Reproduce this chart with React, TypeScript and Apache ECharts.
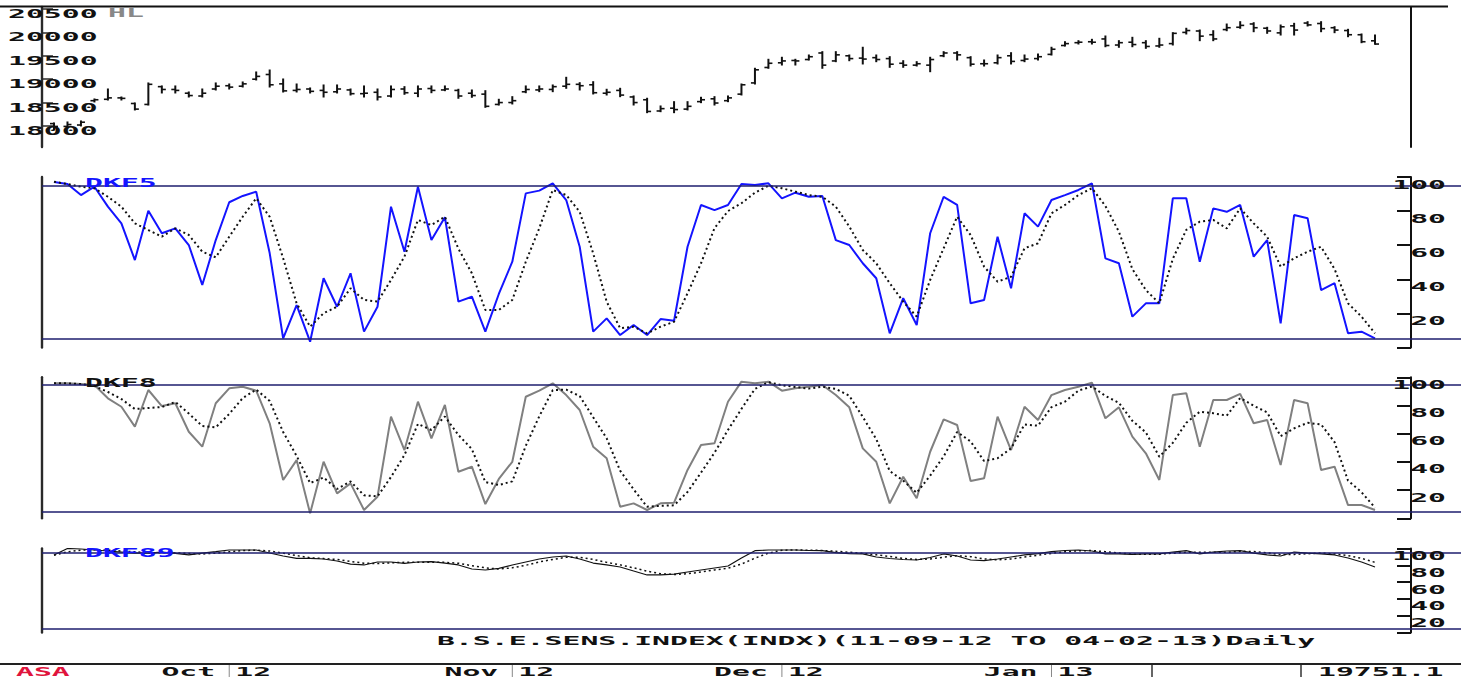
import React, { useEffect, useRef } from 'react';
import * as echarts from 'echarts';

// ---- trading days shown (11-09-12 .. 04-02-13) ----
const sepDays = [11, 12, 13, 14, 17, 18, 20, 21, 24, 25, 26, 27, 28];
const octDays = [1, 3, 4, 5, 8, 9, 10, 11, 12, 15, 16, 17, 18, 19, 22, 23, 25, 26, 29, 30, 31];
const novDays = [1, 2, 5, 6, 7, 8, 9, 12, 13, 15, 16, 19, 20, 21, 22, 23, 26, 27, 29, 30];
const decDays = [3, 4, 5, 6, 7, 10, 11, 12, 13, 14, 17, 18, 19, 20, 21, 24, 26, 27, 28, 31];
const janDays = [1, 2, 3, 4, 7, 8, 9, 10, 11, 14, 15, 16, 17, 18, 21, 22, 23, 24, 25, 28, 29, 30, 31];
const febDays = [1, 4];

const dates: string[] = [
  ...sepDays.map((d) => `${d}-09-12`),
  ...octDays.map((d) => `${d}-10-12`),
  ...novDays.map((d) => `${d}-11-12`),
  ...decDays.map((d) => `${d}-12-12`),
  ...janDays.map((d) => `${d}-01-13`),
  ...febDays.map((d) => `${d}-02-13`),
];

// ---- price (HL bars) ----
const priceHigh = [18064, 18085, 18107, 18577, 18790, 18619, 18491, 18919, 18855, 18855,
  18726, 18790, 18919, 18897, 18940, 19154, 19196, 19004, 18897, 18812,
  18876, 18876, 18790, 18855, 18790, 18855, 18840, 18855, 18855, 18855,
  18784, 18769, 18754, 18570, 18626, 18855, 18855, 18876, 19040, 18925,
  18946, 18784, 18805, 18641, 18592, 18427, 18519, 18519, 18613, 18626,
  18641, 18897, 19233, 19425, 19468, 19425, 19517, 19588, 19588, 19517,
  19682, 19517, 19481, 19395, 19374, 19468, 19588, 19588, 19481, 19410,
  19517, 19566, 19517, 19538, 19682, 19801, 19823, 19852, 19923, 19823,
  19895, 19823, 19874, 19994, 20088, 20051, 20036, 20179, 20229, 20207,
  20109, 20158, 20194, 20229, 20229, 20122, 20066, 19966, 19944];
const priceLow = [17915, 17957, 18000, 18513, 18555, 18555, 18342, 18448, 18705, 18705,
  18619, 18619, 18769, 18790, 18833, 18983, 18833, 18726, 18726, 18705,
  18619, 18705, 18662, 18619, 18555, 18619, 18677, 18626, 18711, 18754,
  18592, 18613, 18399, 18448, 18470, 18711, 18733, 18733, 18805, 18769,
  18684, 18662, 18626, 18448, 18284, 18305, 18284, 18342, 18498, 18448,
  18519, 18662, 18897, 19233, 19303, 19303, 19410, 19233, 19374, 19395,
  19325, 19374, 19254, 19254, 19282, 19160, 19481, 19410, 19282, 19282,
  19325, 19325, 19374, 19410, 19517, 19709, 19752, 19752, 19694, 19682,
  19694, 19660, 19682, 19731, 19966, 19823, 19823, 20036, 20088, 20015,
  19981, 19944, 19944, 20137, 20015, 19994, 19908, 19780, 19745];
const priceOpen = [18050, 17990, 18020, 18540, 18570, 18600, 18480, 18460, 18840, 18780,
  18700, 18640, 18790, 18860, 18850, 19000, 19100, 18900, 18760, 18790,
  18760, 18730, 18770, 18690, 18720, 18640, 18790, 18700, 18800, 18770,
  18760, 18700, 18680, 18460, 18500, 18730, 18770, 18780, 18850, 18890,
  18880, 18700, 18760, 18620, 18560, 18320, 18380, 18360, 18520, 18580,
  18540, 18680, 18920, 19250, 19350, 19400, 19420, 19560, 19390, 19500,
  19450, 19460, 19440, 19340, 19300, 19300, 19500, 19560, 19460, 19330,
  19350, 19500, 19400, 19440, 19530, 19720, 19780, 19800, 19860, 19730,
  19790, 19780, 19710, 19760, 20000, 20030, 19950, 20060, 20110, 20180,
  20090, 19990, 20140, 20200, 20190, 20100, 20040, 19950, 19820];
const priceClose = [17990, 18030, 18080, 18560, 18600, 18590, 18360, 18890, 18780, 18760,
  18650, 18700, 18850, 18830, 18900, 19060, 18880, 18750, 18780, 18740,
  18720, 18790, 18690, 18700, 18620, 18780, 18710, 18790, 18760, 18790,
  18640, 18650, 18420, 18500, 18540, 18780, 18790, 18840, 18890, 18860,
  18710, 18720, 18660, 18500, 18310, 18370, 18350, 18420, 18560, 18490,
  18600, 18880, 19200, 19340, 19390, 19390, 19480, 19300, 19520, 19440,
  19430, 19420, 19320, 19300, 19330, 19420, 19560, 19520, 19320, 19330,
  19460, 19380, 19430, 19480, 19640, 19760, 19790, 19790, 19720, 19780,
  19740, 19700, 19730, 19980, 20040, 19920, 19860, 20100, 20150, 20100,
  20030, 20120, 20050, 20160, 20080, 20050, 19950, 19800, 19751];

// ---- stochastics ----
const k5 = [97.1, 95.9, 89.4, 94.3, 82.6, 72.8, 51.3, 80.2, 67.0, 69.9,
  60.1, 36.7, 63.0, 85.2, 88.9, 91.4, 55.4, 5.4, 24.9, 3.4,
  40.6, 23.9, 43.5, 9.3, 23.9, 82.6, 56.2, 94.3, 63.0, 76.4,
  26.9, 29.8, 9.3, 31.4, 50.3, 90.4, 92.0, 96.3, 86.5, 59.1,
  9.3, 17.1, 7.3, 13.2, 7.3, 16.7, 15.7, 59.1, 83.6, 80.6,
  83.6, 95.9, 95.3, 96.3, 87.5, 90.8, 88.4, 88.9, 63.0, 60.1,
  49.4, 40.6, 8.3, 28.9, 13.2, 67.0, 88.4, 83.6, 25.9, 27.9,
  65.0, 34.7, 78.7, 70.9, 86.5, 89.4, 92.4, 96.3, 52.3, 49.4,
  18.1, 25.9, 25.9, 87.5, 87.5, 50.3, 81.6, 79.6, 83.6, 53.3,
  63.0, 14.2, 77.7, 75.8, 33.7, 37.7, 8.3, 9.3, 5.4];
const d5 = [97.2, 95.9, 94.3, 93.4, 88.4, 82.6, 72.8, 68.9, 65.0, 69.9,
  66.0, 56.2, 52.9, 65.0, 76.7, 87.5, 76.7, 52.3, 25.9, 12.2,
  20.1, 23.9, 34.7, 27.9, 26.9, 39.6, 53.3, 74.8, 71.8, 76.7,
  58.0, 43.5, 22.0, 22.0, 27.9, 50.3, 69.9, 92.4, 89.4, 79.6,
  55.2, 26.9, 11.3, 12.2, 8.3, 12.2, 15.1, 31.8, 49.4, 70.0,
  80.0, 84.6, 90.8, 94.9, 93.4, 91.4, 89.4, 88.4, 82.6, 70.9,
  57.2, 49.4, 37.7, 26.9, 18.1, 39.6, 58.2, 76.7, 66.0, 47.4,
  38.6, 41.5, 58.2, 61.1, 78.7, 83.6, 89.4, 93.4, 83.0, 67.9,
  46.0, 33.7, 25.9, 52.0, 69.0, 73.8, 74.8, 69.9, 81.6, 72.8,
  65.0, 47.4, 52.3, 56.2, 59.1, 46.0, 25.9, 18.1, 8.3];
const k8 = [95.7, 95.7, 95.2, 94.5, 85.1, 79.1, 65.0, 91.0, 79.6, 81.6,
  61.4, 50.8, 81.6, 92.2, 93.3, 90.5, 67.4, 27.2, 41.3, 3.5,
  40.1, 17.7, 24.8, 5.9, 15.3, 72.1, 48.4, 82.7, 56.7, 80.4,
  33.0, 36.6, 10.1, 27.9, 40.1, 86.2, 90.5, 95.7, 87.4, 76.8,
  50.8, 42.6, 8.2, 10.6, 5.9, 10.6, 11.1, 34.3, 52.0, 53.2,
  82.7, 96.9, 95.7, 96.9, 90.5, 92.2, 93.3, 94.5, 87.4, 78.7,
  49.6, 40.1, 10.6, 29.5, 14.2, 47.2, 70.2, 66.2, 26.5, 28.4,
  72.1, 48.4, 79.1, 69.7, 87.4, 91.0, 93.3, 96.2, 70.9, 78.7,
  57.9, 46.1, 27.2, 87.4, 88.7, 50.8, 83.9, 83.9, 88.2, 67.4,
  69.7, 37.8, 83.9, 81.6, 34.3, 36.6, 9.4, 9.4, 5.9];
const d8 = [95.7, 95.7, 95.2, 93.8, 89.6, 84.6, 77.5, 78.2, 78.9, 82.5,
  74.3, 65.5, 64.5, 74.0, 85.3, 91.3, 83.2, 61.2, 44.2, 25.0,
  28.9, 20.8, 26.1, 16.3, 15.5, 29.3, 44.9, 66.9, 62.6, 72.2,
  59.1, 49.1, 25.7, 23.6, 26.2, 51.4, 72.3, 90.9, 91.2, 86.7,
  71.7, 56.7, 33.8, 20.5, 8.2, 8.9, 9.2, 18.7, 32.4, 46.5,
  62.6, 77.6, 91.8, 96.5, 94.4, 93.2, 92.0, 93.3, 91.8, 86.9,
  71.9, 56.2, 33.5, 26.7, 18.1, 30.3, 43.9, 61.2, 54.5, 40.6,
  42.6, 49.6, 66.5, 65.7, 78.8, 82.7, 90.6, 93.5, 86.8, 81.9,
  69.1, 60.9, 43.7, 53.5, 67.7, 75.6, 74.5, 72.8, 85.3, 79.8,
  75.1, 58.3, 63.8, 67.7, 66.6, 54.0, 26.7, 18.5, 7.5];
const k89 = [92.3, 100, 99.4, 98.2, 97.0, 95.8, 94.6, 94.6, 95.8, 94.3,
  92.3, 94.6, 96.2, 98.2, 98.2, 98.2, 94.6, 91.1, 88.3, 88.3,
  87.5, 85.1, 81.5, 80.4, 83.9, 83.9, 82.4, 83.9, 84.3, 82.7,
  80.4, 75.6, 74.4, 76.4, 80.4, 83.9, 87.5, 89.9, 91.1, 87.5,
  82.7, 80.4, 78.0, 73.2, 68.5, 68.5, 69.6, 72.0, 74.4, 76.8,
  79.2, 88.7, 97.4, 98.2, 98.2, 98.2, 97.6, 97.4, 95.2, 94.0,
  93.5, 89.9, 88.1, 86.9, 86.3, 89.3, 93.5, 91.1, 86.3, 85.5,
  87.5, 89.9, 92.3, 94.0, 96.2, 97.6, 98.2, 97.0, 93.5, 93.5,
  92.9, 93.5, 93.5, 95.8, 97.4, 93.5, 95.8, 97.0, 97.4, 94.6,
  92.3, 91.1, 95.8, 94.6, 93.5, 92.3, 88.7, 83.9, 78.0];
const d89 = [92.0, 96.0, 98.0, 98.5, 98.0, 97.0, 96.0, 95.0, 95.0, 95.0,
  94.0, 93.5, 94.5, 96.0, 97.5, 98.0, 97.0, 94.5, 91.5, 89.0,
  88.0, 87.0, 84.5, 82.5, 82.0, 83.0, 83.5, 83.5, 83.5, 83.5,
  82.5, 79.5, 77.0, 75.5, 77.0, 80.0, 84.0, 87.0, 89.5, 89.5,
  87.0, 83.5, 80.5, 77.0, 73.0, 70.0, 69.0, 70.0, 72.0, 74.5,
  76.5, 81.5, 88.5, 94.5, 98.0, 98.2, 98.0, 97.7, 96.7, 95.5,
  94.2, 92.5, 90.5, 88.3, 87.0, 87.5, 89.7, 91.3, 90.3, 87.6,
  86.4, 87.6, 89.9, 92.0, 94.2, 96.0, 97.3, 97.6, 96.2, 94.7,
  93.3, 93.3, 93.3, 94.4, 95.6, 95.6, 95.6, 95.4, 96.7, 96.3,
  94.8, 92.7, 93.0, 93.8, 94.6, 93.5, 91.5, 88.3, 83.5];

// ---- ticks / labels ----
const priceTicks = [18000, 18500, 19000, 19500, 20000, 20500];
const stochTicks = [100, 80, 60, 40, 20];
const stochLevels = [95, 5];
const monthMarks = [
  { month: 'Oct', year: '12', idx: sepDays.length },
  { month: 'Nov', year: '12', idx: sepDays.length + octDays.length },
  { month: 'Dec', year: '12', idx: sepDays.length + octDays.length + novDays.length },
  { month: 'Jan', year: '13', idx: sepDays.length + octDays.length + novDays.length + decDays.length },
];
const panelNames = ['HL', 'DKF5', 'DKF8', 'DKF89'];
const titleText = 'B.S.E.SENS.INDEX(INDX)(11-09-12 TO 04-02-13)Daily';
const brandText = 'ASA';
const lastValueText = '19751.1';

// ---- layout / style constants ----
const FONT = 'bold 13px "DejaVu Sans Mono", monospace';
const SX = 2.29;
const BLUE = '#1414ff';
const NAVY = '#1e1e6e';
const X_MIN = -0.89;
const X_MAX = 104.38;
const STATUS_Y = 671;

const grids = [
  { top: 7, height: 140 },
  { top: 177, height: 170.5 },
  { top: 377.3, height: 141 },
  { top: 548.5, height: 84 },
];

function buildOption(): any {
  const bars = priceHigh.map((h, i) => [i, priceOpen[i], h, priceLow[i], priceClose[i], dates[i]]);
  const pts = (arr: number[]) => arr.map((v, i) => [i, v]);
  const levels = {
    silent: true,
    symbol: ['none', 'none'],
    label: { show: false },
    lineStyle: { color: NAVY, width: 1.6, type: 'solid' },
    data: stochLevels.map((v) => ({ yAxis: v })),
  };
  const leftAxis = (g: number, min: number, max: number, extra: any = {}) => ({
    type: 'value', gridIndex: g, position: 'left', min, max,
    axisLine: { show: true, onZero: false, lineStyle: { color: '#2a2a2a', width: 2.4 } },
    axisTick: { show: false }, axisLabel: { show: false }, splitLine: { show: false },
    ...extra,
  });
  const rightAxis = (g: number, min: number, max: number, extra: any = {}) => ({
    type: 'value', gridIndex: g, position: 'right', offset: -50, min, max,
    axisLine: { show: true, onZero: false, lineStyle: { color: '#111', width: 2 } },
    axisTick: { show: false }, axisLabel: { show: false }, splitLine: { show: false },
    ...extra,
  });
  const stochRight = (g: number) => rightAxis(g, 0, 100, {
    interval: 20,
    axisTick: { show: true, inside: true, length: 14, lineStyle: { color: '#111', width: 2 } },
  });
  const solid = (xi: number, yi: number, data: number[], color: string, width: number, withLevels: boolean) => ({
    type: 'line', xAxisIndex: xi, yAxisIndex: yi, data: pts(data), symbol: 'none', showSymbol: false,
    lineStyle: { color, width }, z: 3, ...(withLevels ? { markLine: levels } : {}),
  });
  const dotted = (xi: number, yi: number, data: number[], width: number) => ({
    type: 'line', xAxisIndex: xi, yAxisIndex: yi, data: pts(data), symbol: 'none', showSymbol: false,
    lineStyle: { color: '#111', width, type: [2, 3] }, z: 4,
  });

  return {
    animation: false,
    backgroundColor: '#ffffff',
    grid: grids.map((g) => ({ left: 42, right: 0, top: g.top, height: g.height, containLabel: false, outerBoundsMode: 'none' })),
    xAxis: grids.map((_, i) => ({ type: 'value', gridIndex: i, min: X_MIN, max: X_MAX, show: false })),
    yAxis: [
      leftAxis(0, 17550, 20543, {
        axisTick: { show: true, inside: true, length: 11, customValues: priceTicks, lineStyle: { color: '#2a2a2a', width: 1.5 } },
      }),
      rightAxis(0, 17550, 20543),
      leftAxis(1, 0, 100), stochRight(1),
      leftAxis(2, 0, 100), stochRight(2),
      leftAxis(3, 0, 100), stochRight(3),
    ],
    series: [
      {
        type: 'custom', xAxisIndex: 0, yAxisIndex: 0, data: bars,
        encode: { x: 0, y: [1, 2, 3, 4] },
        renderItem: (params: any, api: any) => {
          const i = api.value(0);
          const o = api.coord([i, api.value(1)]);
          const h = api.coord([i, api.value(2)]);
          const l = api.coord([i, api.value(3)]);
          const c = api.coord([i, api.value(4)]);
          const st = { stroke: '#111', lineWidth: 2 };
          const tk = { stroke: '#111', lineWidth: 1.6 };
          return {
            type: 'group',
            children: [
              { type: 'line', shape: { x1: h[0], y1: h[1] - 0.5, x2: l[0], y2: l[1] + 0.5 }, style: st },
              { type: 'line', shape: { x1: o[0] - 4, y1: o[1], x2: o[0], y2: o[1] }, style: tk },
              { type: 'line', shape: { x1: c[0], y1: c[1], x2: c[0] + 4, y2: c[1] }, style: tk },
            ],
          };
        },
      },
      solid(1, 2, k5, BLUE, 2, true),
      dotted(1, 2, d5, 2),
      solid(2, 4, k8, '#808080', 2, true),
      dotted(2, 4, d8, 2),
      solid(3, 6, k89, '#111', 1.2, true),
      dotted(3, 6, d89, 1.5),
    ],
  };
}

function txt(text: string, x: number, y: number, fill: string, align: string = 'left') {
  return {
    type: 'text', x, y, scaleX: SX, z: 50, silent: true,
    style: { text, font: FONT, fill, align, verticalAlign: 'middle', textAlign: align, textVerticalAlign: 'middle' },
  };
}
function seg(x1: number, y1: number, x2: number, y2: number, stroke: string, lineWidth: number) {
  return { type: 'line', z: 40, silent: true, shape: { x1, y1, x2, y2 }, style: { stroke, lineWidth } };
}

function buildGraphics(chart: any) {
  const yPix = (ai: number, v: number) => chart.convertToPixel({ yAxisIndex: ai }, v) as number;
  const xPix = (v: number) => chart.convertToPixel({ xAxisIndex: 3 }, v) as number;
  const els: any[] = [];
  // frame lines
  els.push(seg(0, 6.5, 1448, 6.5, '#111', 2));
  els.push(seg(0, 664, 1461, 664, '#222', 2));
  els.push(seg(1152, 665, 1152, 677, '#333', 1.5));
  els.push(seg(1301, 665, 1301, 677, '#333', 1.5));
  // price labels
  priceTicks.forEach((v) => els.push(txt(String(v), 8, yPix(0, v) + 4.5, '#111')));
  // stochastic labels
  [3, 5, 7].forEach((ai) => {
    stochTicks.forEach((v) => els.push(txt(String(v), 1446, yPix(ai, v) + 7, '#111', 'right')));
  });
  // panel names
  els.push(txt(panelNames[0], 108, yPix(0, 20500) + 3, '#888'));
  els.push(txt(panelNames[1], 85, yPix(3, 100) + 5, BLUE));
  els.push(txt(panelNames[2], 85, yPix(5, 100) + 5, '#111'));
  els.push(txt(panelNames[3], 85, yPix(7, 100) + 4, BLUE));
  // title
  els.push(txt(titleText, 437, 640.5, '#111'));
  // status bar
  els.push(txt(brandText, 16, STATUS_Y, '#e0143c'));
  monthMarks.forEach((m) => {
    const x = xPix(m.idx);
    els.push(seg(x, 665, x, 677, '#888', 1));
    els.push(txt(m.month, x - 14, STATUS_Y, '#111', 'right'));
    els.push(txt(m.year, x + 6, STATUS_Y, '#111'));
  });
  els.push(txt(lastValueText, 1318, STATUS_Y, '#111'));
  return { elements: els };
}

export default function App() {
  const ref = useRef<HTMLDivElement>(null);
  useEffect(() => {
    const el = ref.current;
    if (!el) return;
    const chart = echarts.init(el, null, { renderer: 'svg' });
    chart.setOption(buildOption());
    chart.setOption({ graphic: buildGraphics(chart) });
    return () => chart.dispose();
  }, []);
  return (
    <div
      ref={ref}
      style={{ position: 'fixed', left: 0, top: 0, width: 1461, height: 677, background: '#fff' }}
    />
  );
}
